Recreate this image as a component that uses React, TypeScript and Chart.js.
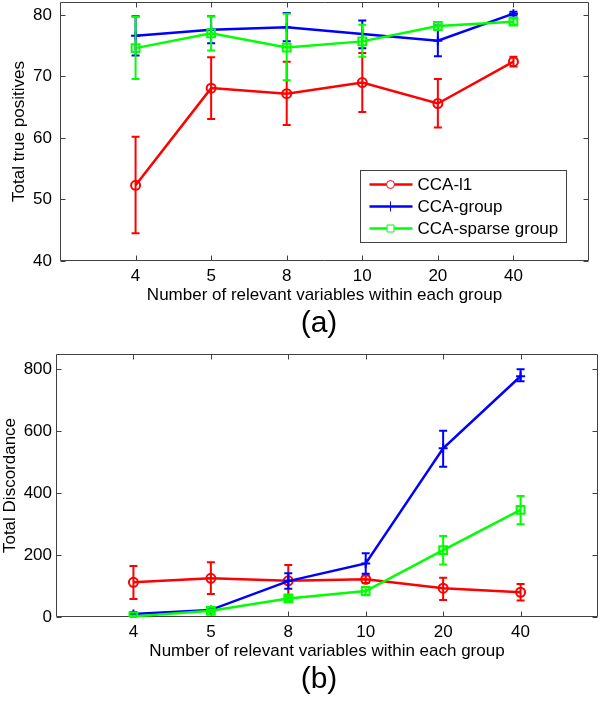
import React, { useEffect, useRef } from 'react';
import { Chart, registerables } from 'chart.js';

Chart.register(...registerables);

// ---------- data ----------
const categories = ['4', '5', '8', '10', '20', '40'];

// (a) Total true positives
const tpL1 = [52.3, 68.1, 67.2, 69.0, 65.6, 72.4];
const tpL1Lo = [44.5, 63.1, 62.1, 64.2, 61.7, 71.6];
const tpL1Hi = [60.2, 73.1, 72.4, 73.8, 69.6, 73.2];
const tpGroup = [76.6, 77.6, 78.0, 76.9, 75.8, 80.2];
const tpGroupLo = [73.4, 75.4, 75.7, 74.6, 73.3, 79.9];
const tpGroupHi = [79.8, 79.8, 80.3, 79.1, 78.3, 80.5];
const tpSparse = [74.6, 77.0, 74.7, 75.7, 78.2, 78.9];
const tpSparseLo = [69.6, 74.2, 69.4, 73.2, 77.6, 78.4];
const tpSparseHi = [79.7, 79.8, 80.2, 78.4, 78.8, 79.4];
const yTicksA = [40, 50, 60, 70, 80];

// (b) Total Discordance
const discL1 = [112, 125, 117, 122, 93, 80];
const discL1Lo = [58, 74, 66, 110, 55, 53];
const discL1Hi = [165, 177, 168, 134, 127, 107];
const discGroup = [10, 23, 116, 173, 545, 778];
const discGroupLo = [5, 18, 91, 140, 486, 762];
const discGroupHi = [15, 28, 141, 206, 602, 801];
const discSparse = [2, 20, 60, 84, 216, 346];
const discSparseLo = [0, 15, 52, 70, 170, 300];
const discSparseHi = [5, 25, 68, 98, 262, 391];
const yTicksB = [0, 200, 400, 600, 800];

const seriesNames = ['CCA-l1', 'CCA-group', 'CCA-sparse group'];
const seriesColors = ['#ff0000', '#0000ff', '#00ff00'];
const seriesMarkers = ['circle', 'cross', 'rect'];
const xTitle = 'Number of relevant variables within each group';

const FONT = "'Liberation Sans', Arial, Helvetica, sans-serif";

// ---------- plugins ----------
const errorBarPlugin = {
  id: 'errorBars',
  afterDatasetDraw(chart: any, args: any) {
    const ds = chart.data.datasets[args.index];
    if (!ds.errLo) return;
    const yScale = chart.scales.y;
    const ctx = chart.ctx;
    ctx.save();
    ctx.strokeStyle = ds.borderColor;
    ctx.lineWidth = 2;
    ctx.lineCap = 'butt';
    args.meta.data.forEach((pt: any, i: number) => {
      const x = pt.x;
      const yLo = yScale.getPixelForValue(ds.errLo[i]);
      const yHi = yScale.getPixelForValue(ds.errHi[i]);
      ctx.beginPath();
      ctx.moveTo(x, yLo);
      ctx.lineTo(x, yHi);
      ctx.moveTo(x - 4, yLo);
      ctx.lineTo(x + 4, yLo);
      ctx.moveTo(x - 4, yHi);
      ctx.lineTo(x + 4, yHi);
      ctx.stroke();
    });
    ctx.restore();
  },
};

const boxPlugin = {
  id: 'matBox',
  beforeDatasetsDraw(chart: any) {
    const { ctx, chartArea: a, scales } = chart;
    const tl = 5;
    ctx.save();
    ctx.strokeStyle = '#404040';
    ctx.lineWidth = 1;
    const L = Math.round(a.left) + 0.5;
    const R = Math.round(a.right) - 0.5;
    const T = Math.round(a.top) + 0.5;
    const B = Math.round(a.bottom) - 0.5;
    ctx.beginPath();
    ctx.rect(L, T, R - L, B - T);
    scales.x.ticks.forEach((t: any) => {
      const x = Math.round(scales.x.getPixelForValue(t.value)) + 0.5;
      ctx.moveTo(x, B);
      ctx.lineTo(x, B - tl);
      ctx.moveTo(x, T);
      ctx.lineTo(x, T + tl);
    });
    scales.y.ticks.forEach((t: any) => {
      const y = Math.round(scales.y.getPixelForValue(t.value)) + 0.5;
      ctx.moveTo(L, y);
      ctx.lineTo(L + tl, y);
      ctx.moveTo(R, y);
      ctx.lineTo(R - tl, y);
    });
    ctx.stroke();
    ctx.restore();
  },
};

const panelLabelPlugin = {
  id: 'panelLabel',
  afterDraw(chart: any, _args: any, opts: any) {
    if (!opts || !opts.text) return;
    const ctx = chart.ctx;
    ctx.save();
    ctx.font = `30px ${FONT}`;
    ctx.fillStyle = '#000';
    ctx.textAlign = 'center';
    ctx.textBaseline = 'middle';
    ctx.fillText(opts.text, opts.x, chart.chartArea.bottom + opts.dy);
    ctx.restore();
  },
};

const insideLegendPlugin = {
  id: 'insideLegend',
  afterDraw(chart: any, _args: any, opts: any) {
    if (!opts || !opts.show) return;
    const { ctx, chartArea: a } = chart;
    const w = 206;
    const h = 72;
    const x0 = Math.round(a.right - 23 - w) + 0.5;
    const y0 = Math.round(a.bottom - 19 - h) + 0.5;
    ctx.save();
    ctx.fillStyle = '#ffffff';
    ctx.fillRect(x0, y0, w, h);
    ctx.strokeStyle = '#404040';
    ctx.lineWidth = 1;
    ctx.strokeRect(x0, y0, w, h);
    ctx.font = `17px ${FONT}`;
    ctx.textBaseline = 'middle';
    ctx.textAlign = 'left';
    chart.data.datasets.forEach((ds: any, i: number) => {
      const y = y0 + 14 + i * 22;
      ctx.strokeStyle = ds.borderColor;
      ctx.lineWidth = 2.5;
      ctx.beginPath();
      ctx.moveTo(x0 + 9, y);
      ctx.lineTo(x0 + 52, y);
      ctx.stroke();
      ctx.lineWidth = 1;
      const mx = x0 + 30;
      ctx.beginPath();
      if (ds.pointStyle === 'circle') {
        ctx.fillStyle = '#fff';
        ctx.arc(mx, y, 4, 0, Math.PI * 2);
        ctx.fill();
        ctx.stroke();
      } else if (ds.pointStyle === 'cross') {
        ctx.moveTo(mx, y - 5);
        ctx.lineTo(mx, y + 5);
        ctx.stroke();
      } else {
        ctx.fillStyle = '#fff';
        ctx.rect(mx - 3.5, y - 3.5, 7, 7);
        ctx.fill();
        ctx.stroke();
      }
      ctx.fillStyle = '#000';
      ctx.fillText(ds.label, x0 + 57, y + 1);
    });
    ctx.restore();
  },
};

// ---------- config builders ----------
function makeDatasets(vals: number[][], lo: number[][], hi: number[][], radius: number[]) {
  return vals.map((v, s) => ({
    label: seriesNames[s],
    data: v.map((y, i) => ({ x: i + 1, y })),
    errLo: lo[s],
    errHi: hi[s],
    borderColor: seriesColors[s],
    backgroundColor: 'rgba(0,0,0,0)',
    borderWidth: 2.5,
    pointStyle: seriesMarkers[s],
    pointRadius: radius[s],
    pointBorderWidth: 2,
    pointBackgroundColor: 'rgba(0,0,0,0)',
    pointBorderColor: seriesColors[s],
    tension: 0,
    fill: false,
    order: 2 - s,
  }));
}

function makeConfig(opts: {
  datasets: any[];
  yMin: number;
  yMax: number;
  yTicks: number[];
  yTitle: string;
  yWidth: number;
  yTickPad: number;
  yTitlePad: number;
  panel: string;
  panelDy: number;
  padding: any;
  legend: boolean;
}) {
  const tickFont = { family: FONT, size: 17 };
  return {
    type: 'line',
    data: { datasets: opts.datasets },
    options: {
      responsive: false,
      animation: false,
      events: [],
      layout: { padding: opts.padding, autoPadding: false },
      scales: {
        x: {
          type: 'linear',
          min: 0,
          max: 7,
          afterBuildTicks: (s: any) => {
            s.ticks = categories.map((_, i) => ({ value: i + 1 }));
          },
          afterFit: (s: any) => {
            s.height = 45;
            s.paddingLeft = 0;
            s.paddingRight = 0;
          },
          grid: { display: false, drawTicks: false },
          border: { display: false },
          ticks: {
            autoSkip: false,
            maxRotation: 0,
            padding: 5,
            color: '#000',
            font: tickFont,
            callback: (v: any) => categories[Number(v) - 1] ?? '',
          },
          title: {
            display: true,
            text: xTitle,
            color: '#000',
            font: tickFont,
            padding: { top: 0, bottom: 0 },
          },
        },
        y: {
          type: 'linear',
          min: opts.yMin,
          max: opts.yMax,
          afterBuildTicks: (s: any) => {
            s.ticks = opts.yTicks.map((v) => ({ value: v }));
          },
          afterFit: (s: any) => {
            s.width = opts.yWidth;
            s.paddingTop = 0;
            s.paddingBottom = 0;
          },
          grid: { display: false, drawTicks: false },
          border: { display: false },
          ticks: {
            padding: opts.yTickPad,
            color: '#000',
            font: tickFont,
          },
          title: {
            display: true,
            text: opts.yTitle,
            color: '#000',
            font: tickFont,
            padding: { top: opts.yTitlePad, bottom: 0 },
          },
        },
      },
      plugins: {
        legend: { display: false },
        tooltip: { enabled: false },
        title: { display: false },
        insideLegend: { show: opts.legend },
        panelLabel: { text: opts.panel, x: 319, dy: opts.panelDy },
      },
    },
    plugins: [boxPlugin, errorBarPlugin, insideLegendPlugin, panelLabelPlugin],
  };
}

function ChartCanvas({ config, width, height, top }: { config: any; width: number; height: number; top: number }) {
  const ref = useRef<HTMLCanvasElement | null>(null);
  useEffect(() => {
    if (!ref.current) return;
    const chart = new Chart(ref.current, config);
    return () => chart.destroy();
  }, [config]);
  return (
    <canvas
      ref={ref}
      width={width}
      height={height}
      style={{ position: 'absolute', left: 0, top, width, height, display: 'block' }}
    />
  );
}

const configA = makeConfig({
  datasets: makeDatasets(
    [tpL1, tpGroup, tpSparse],
    [tpL1Lo, tpGroupLo, tpSparseLo],
    [tpL1Hi, tpGroupHi, tpSparseHi],
    [4.5, 4.5, 5.5]
  ),
  yMin: 40,
  yMax: 82.1,
  yTicks: yTicksA,
  yTitle: 'Total true positives',
  yWidth: 60,
  yTickPad: 8,
  yTitlePad: 9,
  panel: '(a)',
  panelDy: 63,
  padding: { top: 2, right: 11, left: 0, bottom: 40 },
  legend: true,
});

const configB = makeConfig({
  datasets: makeDatasets(
    [discL1, discGroup, discSparse],
    [discL1Lo, discGroupLo, discSparseLo],
    [discL1Hi, discGroupHi, discSparseHi],
    [4.5, 4.5, 5.5]
  ),
  yMin: 0,
  yMax: 850,
  yTicks: yTicksB,
  yTitle: 'Total Discordance',
  yWidth: 56,
  yTickPad: 4,
  yTitlePad: 0,
  panel: '(b)',
  panelDy: 63,
  padding: { top: 8, right: 2, left: 0, bottom: 39 },
  legend: false,
});

export default function App() {
  return (
    <div
      style={{
        position: 'absolute',
        left: 0,
        top: 0,
        width: 600,
        height: 701,
        overflow: 'hidden',
        background: '#ffffff',
      }}
    >
      <ChartCanvas config={configA} width={600} height={346} top={0} />
      <ChartCanvas config={configB} width={600} height={355} top={346} />
    </div>
  );
}
